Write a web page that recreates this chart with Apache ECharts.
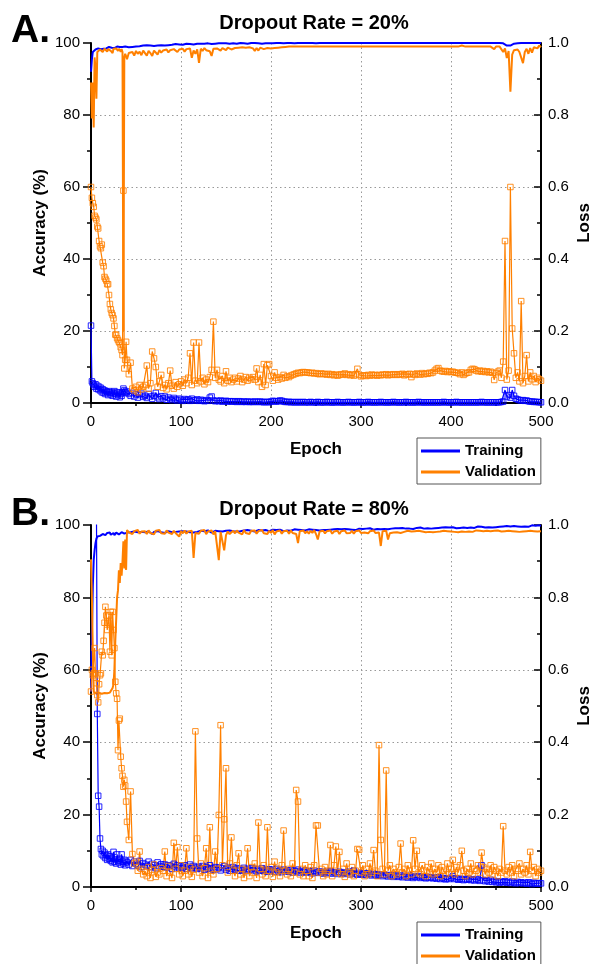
<!DOCTYPE html>
<html><head><meta charset="utf-8">
<script src="https://cdn.jsdelivr.net/npm/echarts@6/dist/echarts.min.js"></script>
<style>html,body{margin:0;padding:0;background:#fff}#c{width:593px;height:964px}</style>
</head><body><div id="c"></div>
<script>
// Epochs: every epoch 0-39, then every 2 epochs 40-500
const EPOCHS = [];
for (let e = 0; e < 40; e++) EPOCHS.push(e);
for (let e = 40; e <= 500; e += 2) EPOCHS.push(e);

const X_TICKS = [0, 100, 200, 300, 400, 500];
const ACC_TICKS = [0, 20, 40, 60, 80, 100];
const LOSS_TICKS = [0, 0.2, 0.4, 0.6, 0.8, 1.0];
const TITLES = ['Dropout Rate = 20%', 'Dropout Rate = 80%'];
const PANEL_LABELS = ['A.', 'B.'];

// ---------- Panel A (dropout 20%) ----------
const A_trainAcc = [
92.0,95.5,97.5,98.0,97.8,98.2,98.3,98.1,98.5,98.4,
98.6,98.3,98.5,98.7,98.4,98.6,98.8,98.5,98.7,98.6,
98.9,98.6,98.8,98.7,99.0,98.8,98.6,98.9,98.7,99.0,
98.8,98.6,98.9,99.0,98.7,98.9,98.5,98.8,99.0,98.9,
99.0,98.8,99.1,98.9,99.2,99.0,99.3,99.1,99.0,99.3,
99.2,99.4,99.1,99.3,99.5,99.2,99.4,99.3,99.5,99.4,
99.6,99.3,99.5,99.4,99.6,99.5,99.4,99.7,99.5,99.6,
99.7,99.5,99.6,99.8,99.6,99.7,99.8,99.6,99.7,99.8,
99.7,99.8,99.6,99.8,99.7,99.9,99.8,99.7,99.9,99.8,
99.8,99.9,99.8,99.9,99.7,99.9,99.9,99.8,99.9,99.9,
99.9,99.8,99.9,100,99.9,99.9,100,99.8,99.9,100,
99.9,100,99.9,99.9,100,99.8,100,99.9,100,99.9,
100,99.9,100,100,99.9,100,100,99.9,100,100,
100,100,100,99.9,100,100,100,100,100,100,
100,100,100,100,100,99.9,100,100,100,100,
100,100,100,100,100,100,100,100,100,100,
100,100,99.9,100,100,100,100,100,100,100,
100,100,100,100,100,100,100,100,100,100,
100,100,100,100,100,100,99.9,100,100,100,
100,100,100,100,100,100,100,100,100,100,
100,100,100,100,100,100,100,100,100,100,
100,100,100,100,100,100,100,100,100,100,
100,100,100,100,100,100,100,100,100,100,
100,100,100,100,100,100,100,100,100,100,
100,100,100,100,100,100,100,100,100,99.9,
99.7,99.3,99.6,99.3,99.6,99.8,100,99.9,100,100,
100,100,99.9,100,100,100,100,100,100,100,
100];

const A_valAcc = [
89,79,89,76.5,96,93,84.5,97.5,98,97.2,
98.2,97.8,98.3,97.5,98.0,98.4,97.9,98.2,97.6,98.3,
98.0,98.5,97.8,98.3,97.2,98.4,98.1,97.9,98.5,98.2,
97.8,98.4,98.0,97.6,98.3,97.5,20,96.0,97.0,96.3,
95.5,97.2,96.8,97.5,96.5,97.8,97.0,97.6,96.6,97.9,
97.4,96.5,97.8,97.2,96.4,97.9,97.5,96.8,98.0,97.3,
97.9,97.6,98.2,97.4,98.0,97.7,98.3,97.8,97.5,98.2,
98.0,98.4,97.6,98.3,97.9,98.5,95.9,97.9,97.0,98.2,
94.5,98.4,97.8,98.6,98.0,98.3,97.7,96.4,98.4,98.1,
98.5,98.2,97.9,98.6,98.3,98.0,98.7,98.4,98.2,98.6,
98.6,98.4,98.7,98.5,98.8,98.6,98.7,98.4,98.8,98.6,
98.5,97.8,98.6,97.9,98.7,98.5,98.3,97.8,98.6,98.7,
98.5,98.8,98.6,98.9,98.7,98.9,98.8,99.0,98.9,99.0,
99.0,99.0,99.0,99.0,99.0,99.0,99.0,99.0,99.0,99.0,
99.0,99.0,99.0,99.0,99.0,99.0,99.0,99.0,99.0,99.0,
99.0,99.0,99.0,99.0,99.0,99.0,99.0,99.0,99.0,99.0,
99.0,99.0,99.0,99.0,99.0,99.0,99.0,99.4,99.0,99.0,
99.0,99.0,99.0,99.0,99.0,99.0,99.0,99.0,99.0,99.0,
99.0,99.0,99.0,99.0,99.0,99.0,99.0,99.0,99.0,99.0,
99.0,99.0,99.0,99.0,99.0,99.0,99.0,99.0,99.0,99.0,
99.0,99.0,99.0,99.0,99.0,99.0,99.0,99.0,99.0,99.0,
99.0,99.0,99.0,99.4,99.0,99.0,99.0,99.0,99.0,99.0,
99.0,99.0,99.0,99.0,99.0,99.0,99.3,99.0,99.0,99.0,
99.0,99.0,99.0,99.0,99.0,99.0,99.0,99.0,99.0,99.0,
99.0,99.0,99.0,98.8,98.3,99.0,98.6,99.0,98.9,97.5,
98.5,95.8,97.8,86.5,96.8,98.0,97.9,98.2,97.5,98.0,
94.4,97.5,98.4,97.0,98.6,97.3,98.8,99.0,98.5,99.3,
98.8];

const A_trainLoss = [
0.215,0.06,0.055,0.05,0.045,0.052,0.04,0.048,0.038,0.045,
0.035,0.042,0.03,0.038,0.028,0.035,0.025,0.032,0.03,0.022,
0.033,0.028,0.024,0.03,0.02,0.027,0.033,0.025,0.018,0.03,
0.022,0.028,0.016,0.025,0.02,0.03,0.04,0.035,0.03,0.028,
0.032,0.025,0.02,0.028,0.018,0.024,0.015,0.022,0.026,0.017,
0.02,0.014,0.025,0.018,0.012,0.02,0.028,0.016,0.011,0.019,
0.013,0.018,0.009,0.015,0.011,0.008,0.014,0.01,0.007,0.012,
0.009,0.006,0.011,0.008,0.01,0.006,0.012,0.008,0.007,0.01,
0.006,0.009,0.007,0.005,0.008,0.006,0.015,0.018,0.007,0.005,
0.006,0.005,0.007,0.004,0.005,0.006,0.004,0.005,0.004,0.005,
0.004,0.003,0.005,0.004,0.003,0.004,0.003,0.004,0.003,0.003,
0.003,0.004,0.003,0.003,0.004,0.003,0.002,0.003,0.003,0.002,
0.004,0.006,0.005,0.004,0.005,0.007,0.006,0.004,0.003,0.003,
0.003,0.002,0.003,0.002,0.002,0.003,0.002,0.002,0.003,0.002,
0.002,0.002,0.003,0.002,0.002,0.002,0.003,0.002,0.002,0.002,
0.002,0.003,0.002,0.002,0.002,0.002,0.002,0.003,0.002,0.002,
0.002,0.002,0.002,0.003,0.002,0.002,0.002,0.002,0.002,0.003,
0.002,0.002,0.002,0.002,0.003,0.002,0.002,0.002,0.002,0.002,
0.002,0.003,0.002,0.002,0.002,0.002,0.002,0.002,0.003,0.002,
0.002,0.002,0.002,0.002,0.002,0.003,0.002,0.002,0.002,0.002,
0.002,0.002,0.003,0.002,0.002,0.002,0.002,0.002,0.002,0.002,
0.002,0.002,0.002,0.002,0.002,0.002,0.003,0.002,0.002,0.002,
0.002,0.002,0.002,0.003,0.002,0.002,0.002,0.002,0.002,0.002,
0.002,0.002,0.002,0.002,0.002,0.002,0.002,0.003,0.002,0.002,
0.002,0.002,0.002,0.002,0.002,0.002,0.002,0.002,0.003,0.004,
0.036,0.018,0.022,0.015,0.036,0.02,0.012,0.01,0.008,0.007,
0.008,0.006,0.007,0.005,0.004,0.004,0.003,0.003,0.003,0.002,
0.002];

const A_valLoss = [
0.60,0.57,0.555,0.545,0.52,0.515,0.51,0.49,0.485,0.45,
0.435,0.43,0.44,0.39,0.38,0.35,0.345,0.34,0.33,0.33,
0.30,0.275,0.26,0.25,0.244,0.235,0.214,0.19,0.189,0.18,
0.175,0.17,0.166,0.155,0.147,0.133,0.59,0.096,0.12,0.17,
0.12,0.08,0.112,0.04,0.035,0.045,0.03,0.05,0.038,0.045,
0.05,0.104,0.04,0.055,0.143,0.124,0.1,0.045,0.06,0.078,
0.042,0.05,0.038,0.055,0.09,0.048,0.04,0.058,0.045,0.052,
0.06,0.048,0.065,0.055,0.07,0.138,0.05,0.168,0.062,0.055,
0.168,0.06,0.07,0.052,0.065,0.058,0.072,0.092,0.226,0.07,
0.092,0.065,0.06,0.075,0.055,0.088,0.062,0.07,0.058,0.065,
0.07,0.06,0.068,0.075,0.058,0.065,0.072,0.062,0.07,0.066,
0.072,0.065,0.096,0.058,0.078,0.045,0.108,0.05,0.105,0.108,
0.075,0.062,0.085,0.07,0.065,0.072,0.068,0.078,0.07,0.074,
0.072,0.076,0.078,0.08,0.082,0.084,0.083,0.085,0.086,0.085,
0.085,0.084,0.083,0.084,0.082,0.083,0.081,0.08,0.082,0.081,
0.08,0.079,0.081,0.078,0.08,0.077,0.079,0.076,0.078,0.08,
0.079,0.082,0.078,0.08,0.077,0.079,0.076,0.08,0.095,0.078,
0.074,0.076,0.077,0.075,0.078,0.076,0.079,0.077,0.078,0.076,
0.078,0.077,0.079,0.078,0.08,0.077,0.079,0.078,0.08,0.079,
0.078,0.08,0.079,0.081,0.077,0.08,0.079,0.081,0.072,0.08,
0.078,0.082,0.08,0.079,0.083,0.08,0.082,0.081,0.084,0.083,
0.085,0.09,0.095,0.097,0.09,0.088,0.087,0.089,0.086,0.088,
0.086,0.087,0.085,0.084,0.083,0.08,0.085,0.078,0.082,0.084,
0.085,0.092,0.095,0.094,0.09,0.088,0.09,0.087,0.089,0.086,
0.088,0.085,0.087,0.084,0.064,0.083,0.087,0.09,0.07,0.115,
0.45,0.065,0.09,0.6,0.207,0.138,0.07,0.085,0.06,0.283,
0.055,0.075,0.133,0.06,0.085,0.066,0.075,0.058,0.07,0.066,
0.062];

// ---------- Panel B (dropout 80%) ----------
const B_trainAcc = [
54,70,83,90.3,93,95,96.2,96.8,96.9,97.2,
97.0,97.4,97.2,97.5,97.3,97.6,97.2,97.5,97.8,97.4,
97.6,97.9,97.3,97.7,97.5,97.8,97.2,97.6,97.9,97.5,
97.7,97.4,97.9,97.6,98.0,97.5,97.8,97.6,98.1,97.7,
97.9,97.6,98.0,97.7,98.2,97.8,98.0,97.6,98.1,97.9,
98.0,97.7,98.2,97.9,97.5,98.1,97.8,98.3,97.9,98.0,
98.2,97.8,98.1,98.3,97.9,98.0,98.4,98.1,97.8,98.2,
98.0,98.3,97.9,98.2,98.4,98.0,98.2,97.9,98.3,98.1,
98.2,98.4,98.0,98.3,98.1,98.5,98.2,97.9,98.3,98.4,
98.1,98.3,98.5,98.2,98.0,98.4,98.2,98.5,98.1,98.3,
98.4,98.2,98.6,98.3,98.1,98.5,98.3,98.6,98.2,98.4,
98.5,98.2,98.4,98.6,98.3,98.5,98.2,98.6,98.4,98.3,
98.5,98.7,98.3,98.6,98.4,98.7,98.5,98.3,98.6,98.5,
98.7,98.4,98.6,98.8,98.5,98.7,98.4,98.6,98.8,98.5,
98.6,98.8,98.5,98.7,98.9,98.6,98.8,98.5,98.7,98.6,
98.8,98.6,98.9,98.7,98.5,98.8,98.6,98.9,98.7,98.8,
98.6,98.9,98.7,98.8,99.0,98.7,98.9,98.6,98.8,99.0,
98.8,98.9,98.7,99.0,98.8,99.1,98.9,98.7,99.0,98.9,
99.0,98.8,99.1,98.9,99.0,98.8,99.1,99.0,98.9,99.1,
98.9,99.1,99.0,99.2,98.9,99.0,99.2,99.0,99.1,98.9,
99.1,99.2,99.0,99.3,99.1,99.0,99.2,99.1,99.3,99.0,
99.2,99.1,99.3,99.2,99.0,99.3,99.1,99.4,99.2,99.3,
99.2,99.4,99.3,99.1,99.4,99.2,99.5,99.3,99.4,99.2,
99.4,99.3,99.5,99.2,99.4,99.6,99.3,99.5,99.4,99.3,
99.5,99.4,99.6,99.3,99.5,99.4,99.6,99.5,99.3,99.6,
99.5,99.7,99.4,99.6,99.5,99.7,99.4,99.6,99.8,99.5,
99.7,99.6,99.8,99.5,99.7,99.9,99.6,99.8,99.7,99.9,
99.8];

const B_valAcc = [
90.5,80,65,54,53.5,53.6,53.4,53.6,53.5,53.6,
53.5,53.6,53.4,53.6,53.5,53.6,53.4,53.6,53.5,53.6,
53.5,53.7,53.6,54,55,56,60,68,74,80,
82,87.5,84,89.5,86,90,95.5,88,96,87.6,
98.6,98.0,98.4,97.5,98.3,97.8,98.6,97.6,98.2,97.9,
98.3,97.5,98.5,97.8,98.1,97.4,98.4,97.9,98.6,97.7,
98.2,97.6,98.5,97.9,98.3,97.5,98.4,97.8,98.2,96.8,
98.3,97.7,98.5,97.6,98.2,97.9,98.4,90.9,97.8,98.3,
97.6,98.4,97.9,98.6,97.5,98.2,97.8,98.5,97.4,98.3,
97.8,90.3,98.1,97.6,93.0,97.2,98.2,97.5,97.9,98.4,
97.7,98.5,97.9,98.3,97.4,98.6,97.8,98.2,97.5,98.4,
97.9,98.5,97.6,98.3,97.8,98.6,97.7,98.1,97.5,98.4,
97.8,98.6,97.4,98.2,97.9,98.5,97.6,98.3,97.8,98.4,
97.6,98.5,97.8,98.2,97.5,95.0,98.3,97.9,98.5,97.7,
98.3,97.6,98.4,97.8,98.6,97.5,96.0,98.2,97.8,98.4,
97.7,98.3,97.9,98.5,97.6,98.2,97.8,98.4,97.5,98.3,
97.9,98.5,97.7,98.2,97.8,98.4,97.6,98.3,97.9,98.5,
97.8,98.2,97.9,98.4,97.7,98.3,98.0,98.5,97.8,98.2,
97.9,94.2,98.3,97.8,98.4,96.0,97.7,98.2,97.9,98.3,
98.0,98.4,97.8,98.3,98.1,97.9,98.4,98.0,98.2,97.9,
98.3,98.0,98.4,97.9,98.2,98.5,98.0,98.3,98.1,98.4,
98.0,98.3,98.1,98.5,98.2,97.9,98.4,98.1,98.3,98.0,
98.2,98.4,98.1,98.3,98.0,98.4,98.2,98.5,98.1,98.3,
98.2,98.4,98.1,98.3,98.5,98.2,98.4,98.1,98.3,98.2,
98.4,98.2,98.3,98.1,98.4,98.2,98.5,98.3,98.2,98.4,
98.3,98.1,98.4,98.2,98.3,98.5,98.2,98.4,98.1,98.3,
98.2,98.4,98.3,98.1,98.4,98.2,98.3,98.5,98.2,98.4,
98.3];

const B_trainLoss = [
1.25,1.22,1.18,1.15,1.12,1.1,1.08,0.478,0.252,0.222,
0.134,0.105,0.09,0.1,0.085,0.095,0.08,0.088,0.075,0.09,
0.078,0.085,0.072,0.08,0.068,0.097,0.07,0.076,0.065,0.09,
0.072,0.068,0.078,0.062,0.09,0.07,0.065,0.075,0.06,0.072,
0.068,0.062,0.075,0.058,0.07,0.064,0.06,0.072,0.055,0.066,
0.062,0.058,0.07,0.055,0.064,0.06,0.052,0.068,0.058,0.063,
0.056,0.062,0.054,0.06,0.058,0.05,0.064,0.055,0.06,0.052,
0.058,0.054,0.06,0.05,0.056,0.062,0.052,0.058,0.054,0.05,
0.056,0.052,0.058,0.048,0.055,0.05,0.06,0.052,0.047,0.055,
0.05,0.054,0.046,0.052,0.058,0.048,0.053,0.045,0.05,0.055,
0.048,0.052,0.045,0.05,0.046,0.053,0.044,0.05,0.047,0.052,
0.046,0.05,0.043,0.048,0.045,0.052,0.044,0.047,0.042,0.049,
0.045,0.048,0.042,0.05,0.044,0.046,0.041,0.048,0.043,0.046,
0.042,0.047,0.04,0.045,0.043,0.048,0.04,0.044,0.041,0.046,
0.04,0.044,0.042,0.038,0.045,0.041,0.039,0.043,0.04,0.037,
0.042,0.038,0.04,0.044,0.037,0.041,0.039,0.036,0.042,0.038,
0.04,0.036,0.039,0.042,0.035,0.038,0.045,0.036,0.034,0.039,
0.036,0.034,0.038,0.033,0.037,0.035,0.032,0.036,0.034,0.031,
0.035,0.033,0.03,0.034,0.032,0.029,0.033,0.031,0.028,0.032,
0.03,0.028,0.032,0.027,0.03,0.029,0.026,0.031,0.028,0.025,
0.029,0.027,0.03,0.025,0.028,0.026,0.024,0.028,0.025,0.027,
0.024,0.026,0.023,0.027,0.022,0.025,0.023,0.021,0.024,0.022,
0.025,0.03,0.022,0.024,0.02,0.023,0.021,0.019,0.022,0.02,
0.023,0.019,0.021,0.018,0.022,0.02,0.017,0.06,0.019,0.016,
0.018,0.015,0.02,0.014,0.017,0.013,0.016,0.012,0.015,0.013,
0.016,0.012,0.014,0.011,0.015,0.012,0.01,0.014,0.011,0.013,
0.01,0.012,0.009,0.013,0.011,0.008,0.012,0.01,0.009,0.011,
0.01];

const B_valLoss = [
0.54,0.60,0.585,0.59,0.66,0.59,0.563,0.53,0.51,0.56,
0.585,0.59,0.65,0.64,0.68,0.73,0.774,0.75,0.71,0.73,
0.75,0.65,0.76,0.64,0.76,0.71,0.66,0.567,0.535,0.52,
0.378,0.46,0.465,0.36,0.328,0.307,0.277,0.296,0.28,0.236,
0.18,0.13,0.264,0.091,0.065,0.07,0.045,0.098,0.05,0.035,
0.042,0.03,0.055,0.025,0.048,0.062,0.028,0.04,0.035,0.052,
0.045,0.098,0.03,0.058,0.04,0.025,0.122,0.05,0.11,0.035,
0.06,0.03,0.045,0.107,0.035,0.055,0.028,0.048,0.43,0.134,
0.04,0.065,0.03,0.052,0.107,0.025,0.165,0.045,0.035,0.098,
0.05,0.199,0.447,0.06,0.187,0.328,0.04,0.065,0.137,0.045,
0.03,0.06,0.093,0.035,0.05,0.025,0.045,0.107,0.03,0.055,
0.04,0.065,0.025,0.178,0.05,0.035,0.06,0.03,0.165,0.045,
0.055,0.028,0.07,0.04,0.05,0.03,0.06,0.156,0.045,0.035,
0.05,0.03,0.065,0.04,0.268,0.236,0.035,0.05,0.03,0.06,
0.045,0.03,0.055,0.025,0.06,0.17,0.17,0.04,0.05,0.03,
0.055,0.035,0.045,0.116,0.03,0.06,0.112,0.04,0.097,0.035,
0.05,0.028,0.065,0.04,0.035,0.055,0.03,0.045,0.105,0.103,
0.04,0.06,0.03,0.05,0.035,0.065,0.04,0.102,0.045,0.03,
0.392,0.13,0.05,0.035,0.322,0.045,0.06,0.03,0.05,0.04,
0.035,0.055,0.12,0.04,0.05,0.03,0.06,0.045,0.035,0.129,
0.05,0.1,0.04,0.035,0.06,0.045,0.03,0.055,0.04,0.065,
0.035,0.05,0.04,0.06,0.03,0.055,0.045,0.035,0.065,0.04,
0.05,0.075,0.035,0.055,0.04,0.06,0.1,0.045,0.03,0.05,
0.04,0.065,0.035,0.05,0.045,0.06,0.04,0.095,0.055,0.035,
0.05,0.04,0.06,0.035,0.055,0.045,0.03,0.05,0.04,0.168,
0.045,0.035,0.055,0.04,0.06,0.03,0.05,0.045,0.065,0.035,
0.05,0.04,0.06,0.035,0.097,0.045,0.055,0.03,0.05,0.04,
0.045];

// ---------- build chart ----------
const FONT = '"Liberation Sans", Arial, Helvetica, sans-serif';
const BLUE = '#0000ff', ORANGE = '#ff8000';
const GRIDS = [{top: 43, height: 360}, {top: 525, height: 362}];

function pairs(v) { return EPOCHS.map((e, i) => [e, v[i]]); }

const gridDotted = {color: '#999', type: [1.5, 3], width: 1};
const axisBlack = {color: '#000', width: 2};
const nameStyle = {fontFamily: FONT, fontSize: 17, fontWeight: 'bold', color: '#000'};

const xAxes = GRIDS.map((g, gi) => ({
  type: 'value', gridIndex: gi, min: X_TICKS[0], max: X_TICKS[X_TICKS.length - 1],
  interval: X_TICKS[1] - X_TICKS[0],
  name: 'Epoch', nameLocation: 'middle', nameGap: 38, nameMoveOverlap: false,
  nameTextStyle: nameStyle,
  axisLine: {show: true, onZero: false, lineStyle: axisBlack},
  axisTick: {show: true, length: 5, lineStyle: {color: '#000', width: 1.5}},
  minorTick: {show: true, splitNumber: 2, length: 3, lineStyle: {color: '#000', width: 1.5}},
  axisLabel: {fontFamily: FONT, fontSize: 15, color: '#000', margin: 11},
  splitLine: {show: true, showMinLine: false, showMaxLine: false, lineStyle: gridDotted}
}));

const yAxes = [];
GRIDS.forEach((g, gi) => {
  yAxes.push({
    type: 'value', gridIndex: gi, position: 'left',
    min: ACC_TICKS[0], max: ACC_TICKS[ACC_TICKS.length - 1], interval: ACC_TICKS[1] - ACC_TICKS[0],
    name: 'Accuracy (%)', nameLocation: 'middle', nameRotate: 90, nameGap: 42, nameMoveOverlap: false,
    nameTextStyle: nameStyle,
    axisLine: {show: true, onZero: false, lineStyle: axisBlack},
    axisTick: {show: true, length: 8, lineStyle: {color: '#000', width: 1.5}},
    minorTick: {show: true, splitNumber: 2, length: 4, lineStyle: {color: '#000', width: 1.5}},
    axisLabel: {fontFamily: FONT, fontSize: 15, color: '#000', margin: 11},
    splitLine: {show: true, showMinLine: false, showMaxLine: false, lineStyle: gridDotted}
  });
  yAxes.push({
    type: 'value', gridIndex: gi, position: 'right',
    min: LOSS_TICKS[0], max: LOSS_TICKS[LOSS_TICKS.length - 1], interval: 0.2,
    name: 'Loss', nameLocation: 'middle', nameRotate: 90, nameGap: 35, nameMoveOverlap: false,
    nameTextStyle: nameStyle,
    axisLine: {show: true, onZero: false, lineStyle: axisBlack},
    axisTick: {show: true, inside: true, length: 7, lineStyle: {color: '#000', width: 1.5}},
    minorTick: {show: true, splitNumber: 2, length: 4, lineStyle: {color: '#000', width: 1.5}},
    axisLabel: {fontFamily: FONT, fontSize: 15, color: '#000', margin: 7,
      formatter: v => v.toFixed(1)},
    splitLine: {show: false}
  });
});

function accSeries(name, color, gi, data) {
  return {type: 'line', name, xAxisIndex: gi, yAxisIndex: gi * 2, data: pairs(data),
    symbol: 'none', showSymbol: false, lineStyle: {color, width: 2}, itemStyle: {color},
    emphasis: {disabled: true}, z: 2, animation: false};
}
function lossSeries(name, color, gi, data) {
  return {type: 'line', name, xAxisIndex: gi, yAxisIndex: gi * 2 + 1, data: pairs(data),
    symbol: 'rect', symbolSize: 5.5, showAllSymbol: true,
    lineStyle: {color, width: 1.2},
    itemStyle: {color: 'rgba(255,255,255,0)', borderColor: color, borderWidth: 1, opacity: 0.85},
    emphasis: {disabled: true}, z: 3, animation: false};
}

const series = [
  accSeries('Training', BLUE, 0, A_trainAcc),
  accSeries('Validation', ORANGE, 0, A_valAcc),
  lossSeries('Training', BLUE, 0, A_trainLoss),
  lossSeries('Validation', ORANGE, 0, A_valLoss),
  accSeries('Training', BLUE, 1, B_trainAcc),
  accSeries('Validation', ORANGE, 1, B_valAcc),
  lossSeries('Training', BLUE, 1, B_trainLoss),
  lossSeries('Validation', ORANGE, 1, B_valLoss)
];

const legends = [438, 922].map(top => ({
  left: 417, top, width: 140, height: 60, orient: 'vertical', selectedMode: false,
  backgroundColor: '#fff', borderColor: '#555', borderWidth: 1,
  padding: [4, 5, 3, 4], itemGap: 3, itemWidth: 39, itemHeight: 3,
  textStyle: {fontFamily: FONT, fontSize: 15, fontWeight: 'bold', color: '#000', lineHeight: 18},
  data: [
    {name: 'Training', icon: 'rect', itemStyle: {color: BLUE}},
    {name: 'Validation', icon: 'rect', itemStyle: {color: ORANGE}}
  ]
}));

const titles = [
  {text: PANEL_LABELS[0], left: 6, top: 7, textStyle: {fontFamily: FONT, fontSize: 39, fontWeight: 'bold', color: '#000'}},
  {text: TITLES[0], left: 309, top: 8, textAlign: 'center', textStyle: {fontFamily: FONT, fontSize: 20, fontWeight: 'bold', color: '#000'}},
  {text: PANEL_LABELS[1], left: 6, top: 490, textStyle: {fontFamily: FONT, fontSize: 39, fontWeight: 'bold', color: '#000'}},
  {text: TITLES[1], left: 309, top: 494, textAlign: 'center', textStyle: {fontFamily: FONT, fontSize: 20, fontWeight: 'bold', color: '#000'}}
];

const chart = echarts.init(document.getElementById('c'), null, {renderer: 'canvas'});
chart.setOption({
  animation: false,
  backgroundColor: '#fff',
  title: titles,
  legend: legends,
  grid: GRIDS.map(g => ({left: 91, width: 450, top: g.top, height: g.height,
    containLabel: false, outerBoundsMode: 'none'})),
  xAxis: xAxes,
  yAxis: yAxes,
  series
});
</script>
</body></html>
